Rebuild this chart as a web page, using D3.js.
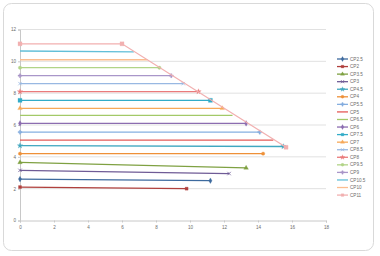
<!DOCTYPE html>
<html>
<head>
<meta charset="utf-8">
<script src="https://cdn.jsdelivr.net/npm/d3@7"></script>
<style>
  body { margin: 0; background: #fff; }
  svg { display: block; font-family: "Liberation Sans", Arial, sans-serif; }
</style>
</head>
<body>
<div id="chart"></div>
<script>
// series in legend order
const seriesNames = ["CP2.5", "CP2", "CP3.5", "CP3", "CP4.5", "CP4", "CP5.5", "CP5", "CP6.5", "CP6",
  "CP7.5", "CP7", "CP8.5", "CP8", "CP9.5", "CP9", "CP10.5", "CP10"];
const startY = [2.6, 2.1, 3.65, 3.15, 4.7, 4.2, 5.55, 5.05, 6.6, 6.1,
  7.55, 7.05, 8.6, 8.1, 9.6, 9.1, 10.65, 10.1];
const endX = [11.2, 9.8, 13.3, 12.3, 15.5, 14.3, 14.1, 14.9, 12.5, 13.3,
  11.2, 11.9, 9.6, 10.5, 8.2, 8.9, 6.7, 7.5];
const endY = [2.5, 2.0, 3.3, 2.95, 4.65, 4.2, 5.55, 5.05, 6.6, 6.1,
  7.55, 7.05, 8.6, 8.1, 9.6, 9.1, 10.6, 10.1];
const seriesColors = ["#3d6a9e", "#b0403d", "#7fa142", "#6f5b96", "#40a7c0", "#ee9038", "#86afe0", "#e55a57",
  "#a3c968", "#8c6db0", "#33acc8", "#f7a958", "#98b8e2", "#ea7b7b", "#b1d487", "#a996c9", "#62bfd8", "#fbbd8f"];
const seriesMarkers = ["diamond", "square", "triangle", "cross", "star", "circle", "plus", null,
  null, "diamond", "square", "triangle", "cross", "star", "circle", "plus", null, null];

// the last series has three points
const cp11Name = "CP11";
const cp11X = [0, 6, 15.65];
const cp11Y = [11.1, 11.1, 4.6];
const cp11Color = "#f2b0b0";

const xTicks = [0, 2, 4, 6, 8, 10, 12, 14, 16, 18];
const yTicks = [0, 2, 4, 6, 8, 10, 12];

const width = 380, height = 256;
const svg = d3.select("#chart").append("svg")
  .attr("width", width).attr("height", height);

svg.append("rect")
  .attr("x", 3.5).attr("y", 3.5)
  .attr("width", 370).attr("height", 247)
  .attr("rx", 8)
  .attr("fill", "#fff").attr("stroke", "#d9d9d9");

const x = d3.scaleLinear().domain([0, 18]).range([20, 326]);
const y = d3.scaleLinear().domain([0, 12]).range([220.5, 29.5]);

// gridlines
svg.append("g").selectAll("line")
  .data(yTicks.filter(d => d > 0))
  .join("line")
  .attr("x1", x(0)).attr("x2", x(18))
  .attr("y1", d => y(d)).attr("y2", d => y(d))
  .attr("stroke", "#d9d9d9").attr("stroke-width", 0.8);

// axes
const xAxis = svg.append("g")
  .attr("transform", `translate(0,${y(0)})`)
  .call(d3.axisBottom(x).tickValues(xTicks).tickSize(2).tickPadding(3));
const yAxis = svg.append("g")
  .attr("transform", `translate(${x(0)},0)`)
  .call(d3.axisLeft(y).tickValues(yTicks).tickSize(2).tickPadding(2));
[xAxis, yAxis].forEach(a => {
  a.select(".domain").attr("stroke", "#c8c8c8");
  a.selectAll(".tick line").attr("stroke", "#c8c8c8");
  a.selectAll("text").attr("fill", "#6b6b6b").attr("font-size", 4.6);
});

const symbolTypes = {
  diamond: d3.symbolDiamond, square: d3.symbolSquare, triangle: d3.symbolTriangle,
  cross: d3.symbolX, star: d3.symbolStar, circle: d3.symbolCircle, plus: d3.symbolCross
};

function drawMarker(g, type, cx, cy, color, size) {
  if (!type) return;
  const filled = !(type == "cross");
  g.append("path")
    .attr("transform", `translate(${cx},${cy})`)
    .attr("d", d3.symbol().type(symbolTypes[type]).size(size || 9)())
    .attr("fill", filled ? color : "none")
    .attr("stroke", color).attr("stroke-width", filled ? 0.3 : 0.8);
}

const line = d3.line().x(d => x(d[0])).y(d => y(d[1]));
const plot = svg.append("g");

seriesNames.forEach((name, i) => {
  const pts = [[0, startY[i]], [endX[i], endY[i]]];
  const g = plot.append("g");
  g.append("path")
    .attr("d", line(pts))
    .attr("fill", "none")
    .attr("stroke", seriesColors[i]).attr("stroke-width", 1.3);
  const sz = seriesNames[i] == "CP7.5" ? 16 : 9;
  pts.forEach(p => drawMarker(g, seriesMarkers[i], x(p[0]), y(p[1]), seriesColors[i], sz));
});

const cp11Pts = cp11X.map((d, i) => [d, cp11Y[i]]);
const g11 = plot.append("g");
g11.append("path")
  .attr("d", line(cp11Pts))
  .attr("fill", "none")
  .attr("stroke", cp11Color).attr("stroke-width", 1.3);
cp11Pts.forEach(p => drawMarker(g11, "square", x(p[0]), y(p[1]), cp11Color, 16));

// legend
const legendNames = seriesNames.concat([cp11Name]);
const legendColors = seriesColors.concat([cp11Color]);
const legendMarkers = seriesMarkers.concat(["square"]);
const legend = svg.append("g");
legendNames.forEach((name, i) => {
  const ly = 59 + i * 7.56;
  const g = legend.append("g");
  g.append("line")
    .attr("x1", 337).attr("x2", 348)
    .attr("y1", ly).attr("y2", ly)
    .attr("stroke", legendColors[i]).attr("stroke-width", 1.3);
  drawMarker(g, legendMarkers[i], 342.5, ly, legendColors[i], 7);
  g.append("text")
    .attr("x", 350).attr("y", ly)
    .attr("dy", "0.35em")
    .attr("font-size", 4.6)
    .attr("fill", "#6b6b6b")
    .text(name);
});
</script>
</body>
</html>
